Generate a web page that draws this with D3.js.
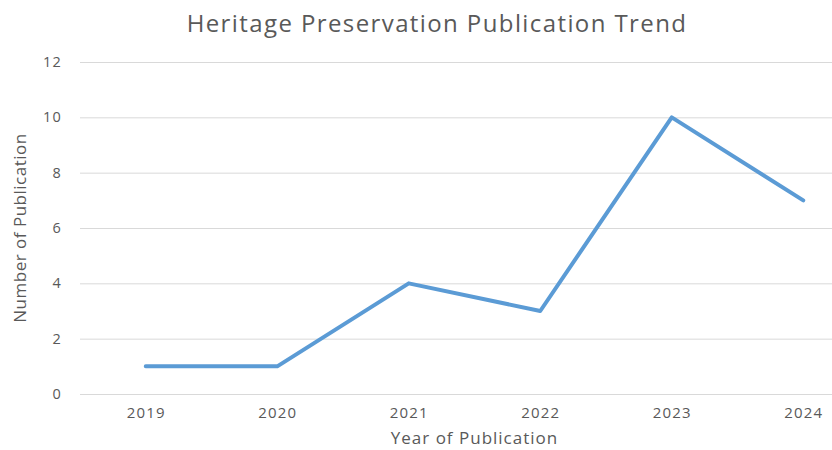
<!DOCTYPE html>
<html>
<head>
<meta charset="utf-8">
<script src="https://cdn.jsdelivr.net/npm/d3@7"></script>
<style>
  body { margin: 0; background: #fff; }
  svg { display: block; }
  svg text { font-family: "Open Sans", sans-serif; }
</style>
</head>
<body>
<svg id="chart"></svg>
<script>
'use strict';

const years = ['2019', '2020', '2021', '2022', '2023', '2024'];
const publications = [1, 1, 4, 3, 10, 7];
const yTicks = [0, 2, 4, 6, 8, 10, 12];

const width = 832, height = 450;
const margin = { top: 62, left: 80, bottom: 56 };
// plot runs past the right edge of the picture, so the last band is cut off
const plotRight = 869;

const svg = d3.select('#chart')
    .attr('width', width)
    .attr('height', height);

const x = d3.scalePoint()
    .domain(years)
    .range([margin.left, plotRight])
    .padding(0.5);

const y = d3.scaleLinear()
    .domain([0, 12])
    .range([height - margin.bottom, margin.top]);

const yAxis = d3.axisLeft(y)
    .tickValues(yTicks)
    .tickSize(-(plotRight - margin.left))
    .tickPadding(18);

svg.append('g')
    .attr('class', 'y-axis')
    .attr('transform', `translate(${margin.left}, 0)`)
    .call(yAxis)
    .call(g => g.select('.domain').remove())
    .call(g => g.selectAll('.tick line').attr('stroke', '#d9d9d9').attr('stroke-width', 1))
    .call(g => g.selectAll('.tick text')
        .attr('fill', '#595959')
        .style('font-size', '14.5px')
        .style('letter-spacing', '1.2px'));

const xAxis = d3.axisBottom(x)
    .tickSize(0)
    .tickPadding(13);

svg.append('g')
    .attr('class', 'x-axis')
    .attr('transform', `translate(0, ${y(0)})`)
    .call(xAxis)
    .call(g => g.select('.domain').remove())
    .call(g => g.selectAll('.tick text')
        .attr('fill', '#595959')
        .style('font-size', '15px')
        .style('letter-spacing', '1.2px'));

const line = d3.line()
    .x((d, i) => x(years[i]))
    .y(d => y(d));

svg.append('path')
    .datum(publications)
    .attr('fill', 'none')
    .attr('stroke', '#5b9bd5')
    .attr('stroke-width', 4)
    .attr('stroke-linecap', 'round')
    .attr('stroke-linejoin', 'round')
    .attr('d', line);

svg.append('text')
    .attr('x', 437)
    .attr('y', 32)
    .attr('text-anchor', 'middle')
    .attr('fill', '#595959')
    .style('font-size', '24px')
    .style('letter-spacing', '1.4px')
    .text('Heritage Preservation Publication Trend');

svg.append('text')
    .attr('x', (margin.left + plotRight) / 2)
    .attr('y', 444)
    .attr('text-anchor', 'middle')
    .attr('fill', '#595959')
    .style('font-size', '17px')
    .style('letter-spacing', '1px')
    .text('Year of Publication');

svg.append('text')
    .attr('transform', `translate(26, ${(y(0) + y(12)) / 2}) rotate(-90)`)
    .attr('text-anchor', 'middle')
    .attr('fill', '#595959')
    .style('font-size', '17px')
    .style('letter-spacing', '0.5px')
    .text('Number of Publication');
</script>
</body>
</html>
